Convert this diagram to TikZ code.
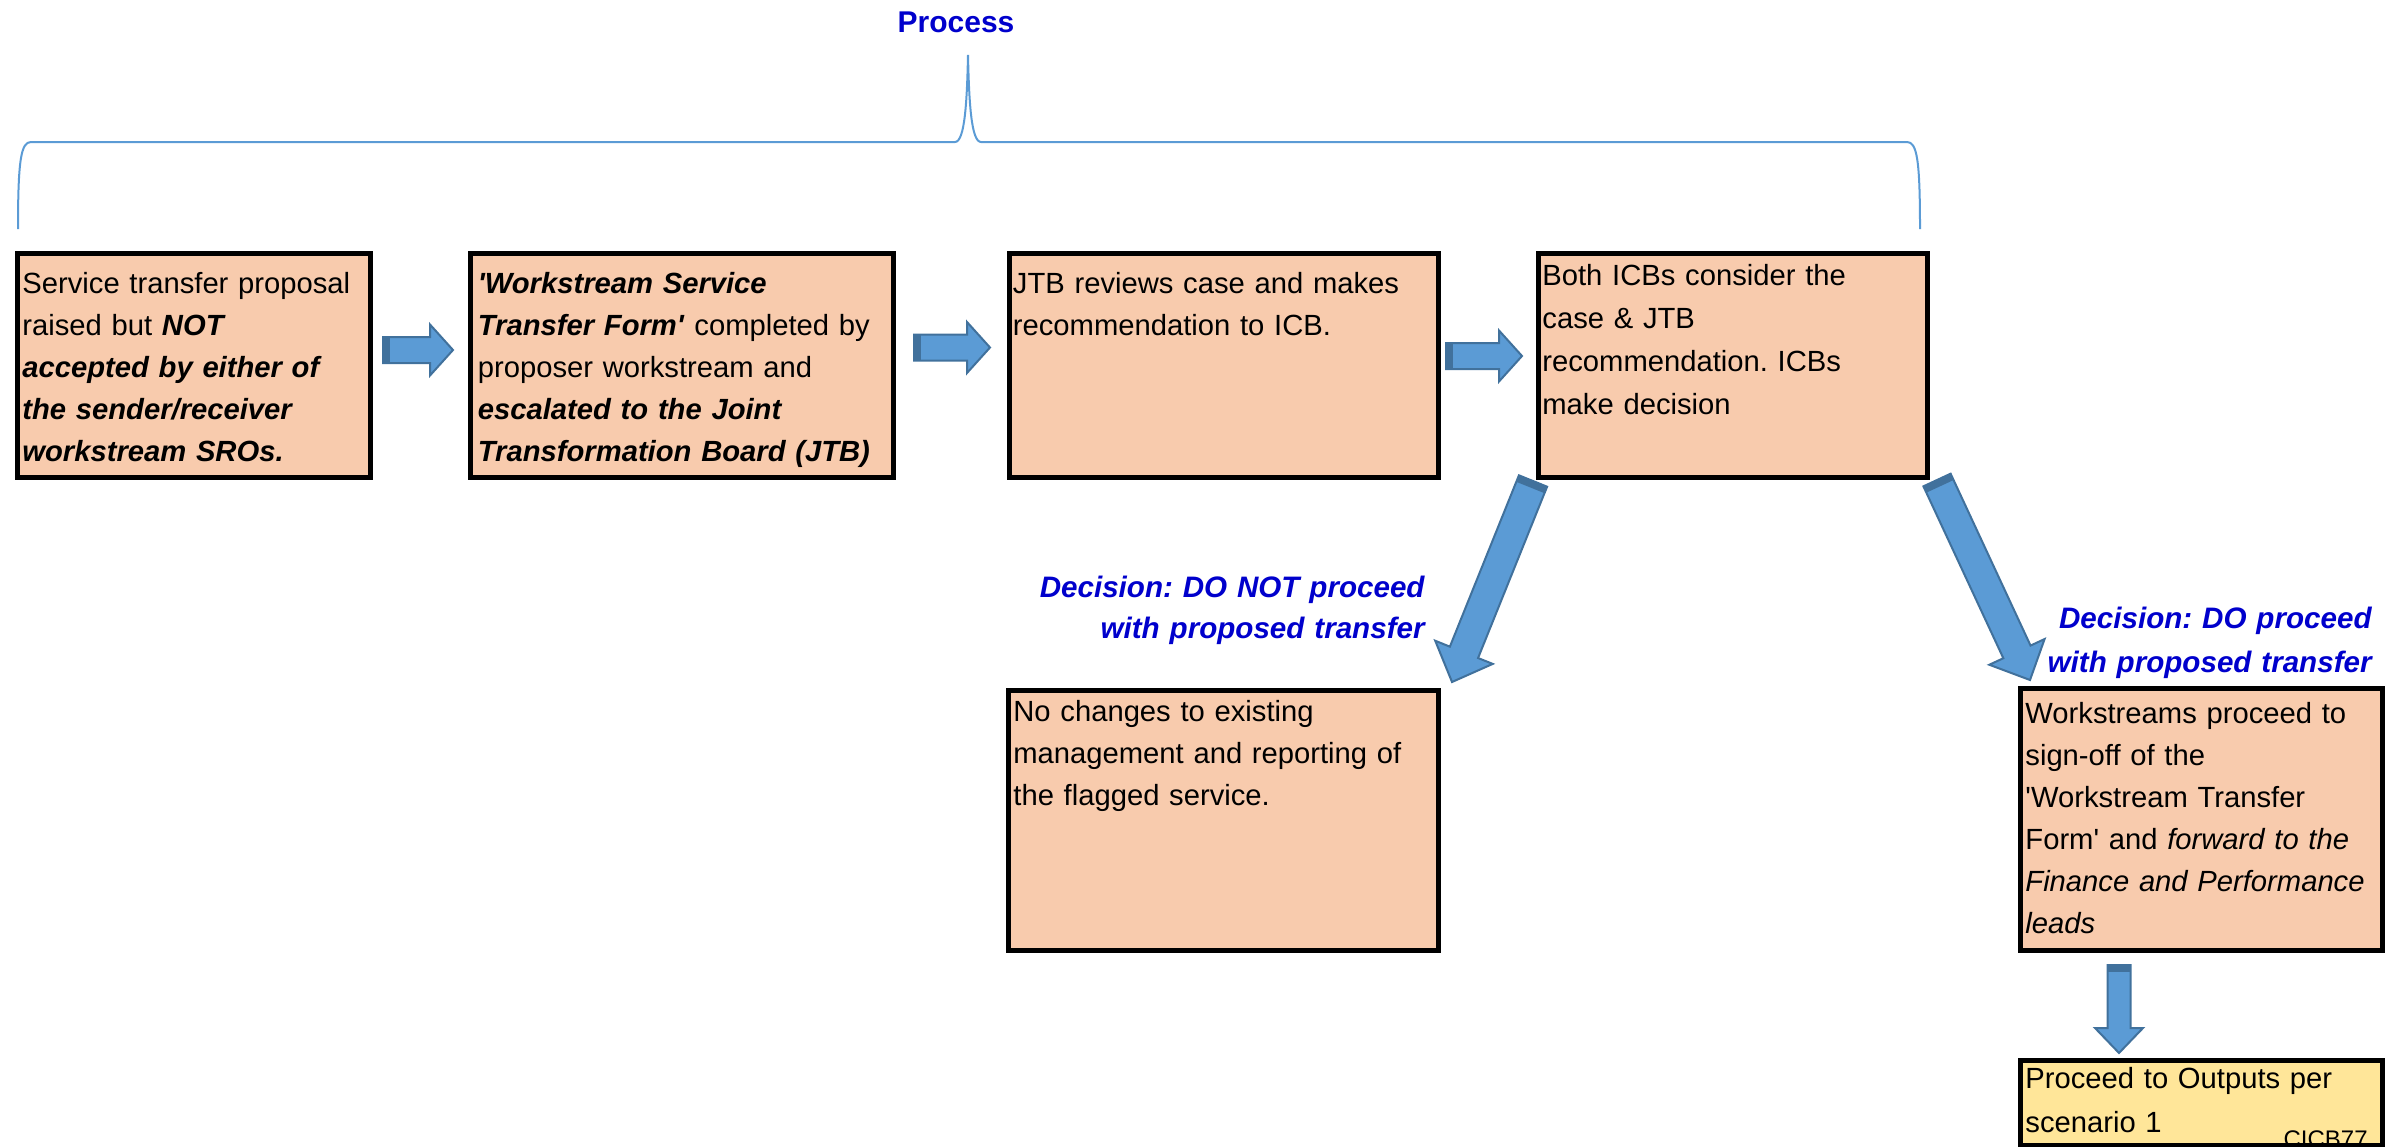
\documentclass[tikz,border=0pt]{standalone}
\usepackage{fontspec}
\setmainfont{Liberation Sans}
\usetikzlibrary{calc}
\definecolor{peach}{HTML}{F8CBAD}
\definecolor{pale}{HTML}{FFE699}
\definecolor{afill}{HTML}{5B9BD5}
\definecolor{aline}{HTML}{41719C}
\definecolor{lblue}{HTML}{0000CC}
\definecolor{bracecol}{HTML}{5B9BD5}
\newcommand\bi[1]{\textbf{\textit{#1}}}
\newcommand\sq{\textquotesingle}
\frenchspacing
\tikzset{
  pbox/.style={draw=black, line width=2.5pt, inner sep=0pt, anchor=north west, fill=peach},
  ptext/.style={inner sep=0pt, anchor=base west, text width=230pt, align=left,
    font=\fontsize{14.6pt}{21pt}\selectfont\frenchspacing},
  declabel/.style={inner sep=0pt, anchor=base east, text width=230pt, align=right,
    text=lblue, font=\fontsize{14.8pt}{20.5pt}\selectfont\bfseries\itshape\frenchspacing},
  barrow/.style={draw=aline, fill=afill, line width=1pt, line join=miter},
  barrowdark/.style={fill=aline},
}
% #1 tail, #2 tip, #3 shaft half width, #4 head half width, #5 head length
\newcommand\blockarrow[5]{%
  \coordinate (bahead) at ($(#2)!#5!(#1)$);
  \coordinate (batail) at ($(#1)!3.5pt!(#2)$);
  \draw[barrow] ($(#1)!#3!90:(#2)$) -- ($(bahead)!#3!-90:(#1)$) -- ($(bahead)!#4!-90:(#1)$)
    -- (#2) -- ($(bahead)!#4!90:(#1)$) -- ($(bahead)!#3!90:(#1)$) -- ($(#1)!#3!-90:(#2)$) -- cycle;
  \fill[barrowdark] ($(#1)!#3!90:(#2)$) -- ($(batail)!#3!90:(#2)$) -- ($(batail)!#3!-90:(#2)$)
    -- ($(#1)!#3!-90:(#2)$) -- cycle;
}
\begin{document}
\begin{tikzpicture}[x=0.5pt, y=-0.5pt]
\useasboundingbox (0,0) rectangle (2399,1146);

% title and brace
\node[anchor=base, inner sep=0pt, text=lblue, font=\fontsize{15pt}{18pt}\selectfont\bfseries] (title) at (956,32) {Process};
\draw[bracecol, line width=1pt] (18,229) .. controls (18,160) and (21,142) .. (31,142) -- (955,142)
  .. controls (965,142) and (967,100) .. (968,55) .. controls (969,100) and (971,142) .. (981,142)
  -- (1907,142) .. controls (1917,142) and (1920,160) .. (1920,229);

% boxes
\node[pbox, minimum width=176.5pt, minimum height=112pt] (b1) at (14.5,250.5) {};
\node[pbox, minimum width=211.5pt, minimum height=112pt] (b2) at (467.5,250.5) {};
\node[pbox, minimum width=214.5pt, minimum height=112pt] (b3) at (1006.5,250.5) {};
\node[pbox, minimum width=194.5pt, minimum height=112pt] (b4) at (1535.5,250.5) {};
\node[pbox, minimum width=215pt, minimum height=130pt] (b5) at (1005.5,687.5) {};
\node[pbox, minimum width=181pt, minimum height=131pt] (b6) at (2017.5,685.5) {};
\node[pbox, fill=pale, minimum width=181pt, minimum height=42.5pt] (b7) at (2017.5,1057.5) {};

% box texts
\node[ptext] (t1) at ($(b1.north west)+(7.5,42.5)$) {Service transfer proposal\\
  raised but \bi{NOT}\\ \bi{accepted by either of}\\ \bi{the sender/receiver}\\ \bi{workstream SROs.}};
\node[ptext] (t2) at ($(b2.north west)+(10,42.5)$) {\bi{\sq Workstream Service}\\
  \bi{Transfer Form\sq} completed by\\ proposer workstream and\\ \bi{escalated to the Joint}\\
  \bi{Transformation Board (JTB)}};
\node[ptext] (t3) at ($(b3.north west)+(6,42.5)$) {JTB reviews case and makes\\ recommendation to ICB.};
\node[ptext, font=\fontsize{14.6pt}{21.5pt}\selectfont\frenchspacing] (t4) at ($(b4.north west)+(6.5,34.5)$) {Both ICBs consider the\\
  case \& JTB\\ recommendation. ICBs\\ make decision};
\node[ptext] (t5) at ($(b5.north west)+(7.5,33.5)$) {No changes to existing\\ management and reporting of\\ the flagged service.};
\node[ptext] (t6) at ($(b6.north west)+(7.5,37.5)$) {Workstreams proceed to\\ sign-off of the\\
  \sq Workstream Transfer\\ Form\sq{} and \textit{forward to the}\\ \textit{Finance and Performance}\\ \textit{leads}};
\node[ptext, font=\fontsize{14.6pt}{22pt}\selectfont] (t7) at ($(b7.north west)+(7.5,30.5)$) {Proceed to Outputs per\\ scenario 1};
\begin{scope}
  \clip ($(b7.north west)+(2.5,2.5)$) rectangle ($(b7.south east)+(-2.5,-2.5)$);
  \node[inner sep=0pt, anchor=base east, font=\fontsize{12pt}{14pt}\selectfont] (code) at (2368,1147) {CICB77};
\end{scope}

% decision labels
\node[declabel] (d1) at (1425,597) {Decision: DO NOT proceed\\ with proposed transfer};
\node[declabel, font=\fontsize{14.8pt}{22pt}\selectfont\bfseries\itshape\frenchspacing] (d2) at (2372,628) {Decision: DO proceed\\ with proposed transfer};

% block arrows
\coordinate (a1s) at (383,350);   \coordinate (a1e) at (453,350);
\coordinate (a2s) at (914,347.5); \coordinate (a2e) at (990,347.5);
\coordinate (a3s) at (1446,356);  \coordinate (a3e) at (1522,356);
\coordinate (a4s) at (1533,481);  \coordinate (a4e) at (1452,682);
\coordinate (a5s) at (1937,480);  \coordinate (a5e) at (2030,680);
\coordinate (a6s) at (2119,965);  \coordinate (a6e) at (2119,1053);
\blockarrow{a1s}{a1e}{6.5pt}{12.75pt}{11.5pt}
\blockarrow{a2s}{a2e}{6.5pt}{12.75pt}{11.5pt}
\blockarrow{a3s}{a3e}{6.5pt}{12.75pt}{11.5pt}
\blockarrow{a4s}{a4e}{7.6pt}{15.5pt}{16pt}
\blockarrow{a5s}{a5e}{7.5pt}{15.25pt}{15.5pt}
\blockarrow{a6s}{a6e}{5.75pt}{12pt}{12.5pt}
\end{tikzpicture}
\end{document}
